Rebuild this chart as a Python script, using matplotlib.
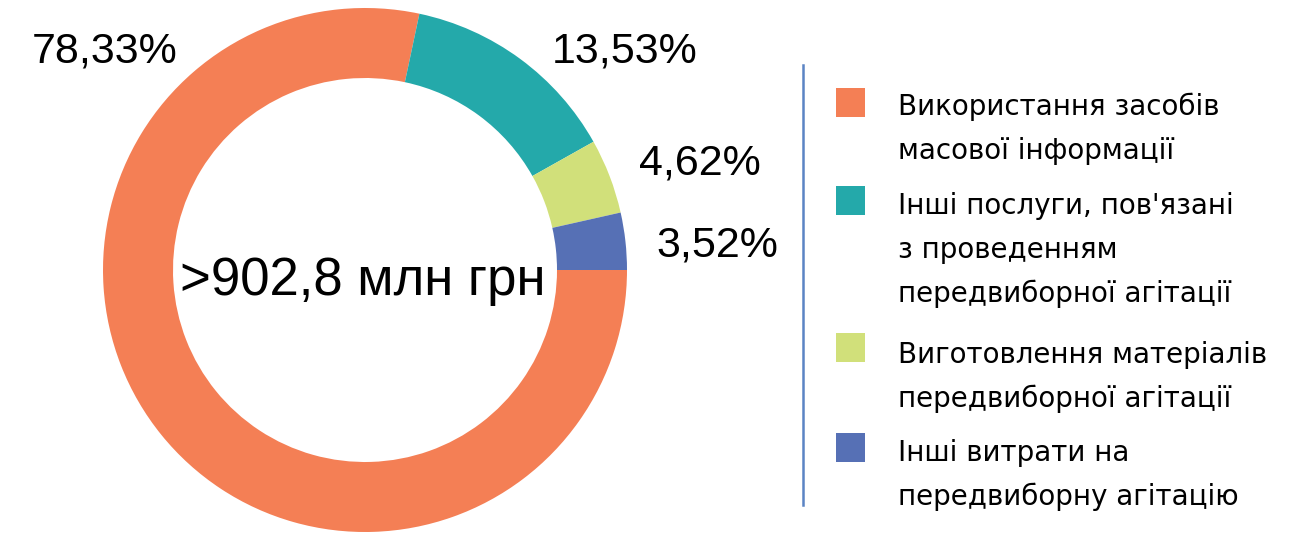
import matplotlib.pyplot as plt
from matplotlib.patches import Rectangle

plt.rcParams['font.family'] = ['Liberation Sans', 'DejaVu Sans']

# data
categories = [
    "Використання засобів\nмасової інформації",
    "Інші послуги, пов'язані\nз проведенням\nпередвиборної агітації",
    "Виготовлення матеріалів\nпередвиборної агітації",
    "Інші витрати на\nпередвиборну агітацію",
]
shares = [78.33, 13.53, 4.62, 3.52]
total_label = ">902,8 млн грн"
colors = ["#F47F55", "#24A9AA", "#D1E07A", "#5670B5"]

W, H = 1290, 534
fig = plt.figure(figsize=(W / 100, H / 100), dpi=100)
ax = fig.add_axes([0, 0, 1, 1])

# donut, pixel coordinates with y going up
ax.pie(shares, colors=colors, startangle=0, counterclock=False,
       radius=262, center=(365, H - 270), frame=True,
       wedgeprops=dict(width=70, linewidth=0))
ax.set_xlim(0, W)
ax.set_ylim(0, H)
ax.set_aspect('equal')
ax.axis('off')

# percentage labels (positions as in the original layout)
label_pos = [(105, 52), (625, 51), (700, 164), (717, 245)]
for v, (x, y) in zip(shares, label_pos):
    ax.text(x, H - y, f"{v:.2f}".replace('.', ',') + '%', fontsize=31,
            ha='center', va='center')

ax.text(363, H - 281, total_label, fontsize=38, ha='center', va='center')

# legend, drawn by hand
ax.plot([803, 803], [H - 65, H - 505], color='#5B84C4', lw=1.8)
square_y = [102, 200, 347, 447]
first_baseline = [115, 214, 363, 461]
for name, c, sy, by in zip(categories, colors, square_y, first_baseline):
    ax.add_patch(Rectangle((836, H - sy - 14.5), 29, 29, color=c, lw=0))
    for i, line in enumerate(name.split('\n')):
        ax.text(898, H - by - 44 * i, line, fontsize=20, ha='left',
                va='baseline', family='DejaVu Sans')

fig.savefig('out.png', dpi=100)
